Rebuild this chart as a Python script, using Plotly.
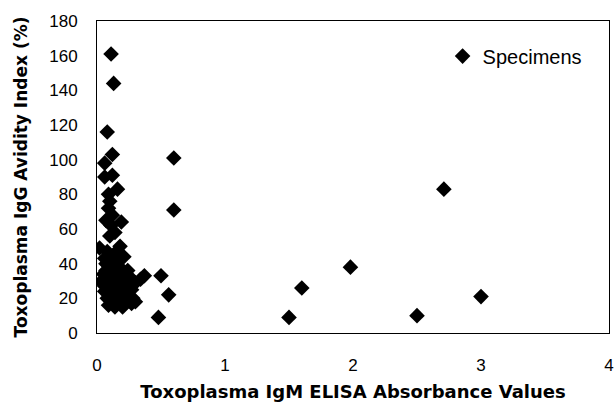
import plotly.graph_objects as go

# Toxoplasma IgM ELISA absorbance (x) vs IgG avidity index % (y)
igm_absorbance = [
    0.11, 0.13, 0.08, 0.12, 0.06, 0.06, 0.12, 0.16, 0.09, 0.10,
    0.09, 0.12, 0.07, 0.19, 0.11, 0.14, 0.10, 0.02, 0.18, 0.08,
    0.14, 0.21, 0.06, 0.11, 0.16, 0.09, 0.13, 0.19, 0.24, 0.07,
    0.12, 0.17, 0.26, 0.34, 0.05, 0.10, 0.14, 0.20, 0.30, 0.08,
    0.22, 0.12, 0.16, 0.27, 0.06, 0.10, 0.19, 0.24, 0.14, 0.08,
    0.12, 0.30, 0.17, 0.22, 0.06, 0.09, 0.14, 0.20, 0.27, 0.05,
    0.07, 0.15, 0.22, 0.11, 0.25, 0.18, 0.04, 0.28,
    0.60, 0.60, 0.37, 0.50, 0.56, 0.48,
    1.50, 1.60, 1.98, 2.50, 2.71, 3.00,
]
igg_avidity = [
    161, 144, 116, 103, 98, 90, 91, 83, 80, 76,
    72, 68, 65, 64, 62, 58, 56, 49, 50, 47,
    46, 44, 43, 42, 41, 39, 38, 37, 36, 36,
    34, 33, 32, 31, 31, 30, 29, 30, 29, 28,
    27, 26, 25, 25, 24, 23, 22, 21, 21, 20,
    19, 18, 18, 17, 27, 16, 15, 15, 17, 34,
    40, 35, 23, 44, 28, 27, 29, 20,
    101, 71, 33, 33, 22, 9,
    9, 26, 38, 10, 83, 21,
]
series_name = "Specimens"
x_ticks = [0, 1, 2, 3, 4]
y_ticks = [0, 20, 40, 60, 80, 100, 120, 140, 160, 180]

fig = go.Figure()
fig.add_trace(go.Scatter(
    x=igm_absorbance, y=igg_avidity, mode="markers", name=series_name,
    marker=dict(symbol="diamond", size=12, color="black", line=dict(width=0)),
))

font_family = "Liberation Sans, Arial, sans-serif"
title_family = "DejaVu Sans, Liberation Sans, sans-serif"
fig.update_layout(
    width=616, height=407,
    margin=dict(l=97, r=7, t=21, b=74, autoexpand=False),
    paper_bgcolor="white", plot_bgcolor="white",
    font=dict(family=font_family, size=17, color="black"),
    showlegend=True,
    legend=dict(x=0.675, y=0.95, xanchor="left", yanchor="top",
                bgcolor="rgba(0,0,0,0)", font=dict(size=20),
                borderwidth=0, itemsizing="constant"),
    xaxis=dict(
        range=[0, 4], tickvals=x_ticks, showgrid=False, zeroline=False,
        showline=True, linecolor="black", linewidth=1, mirror=True,
        ticks="", ticklabelstandoff=17, ticklabeloverflow="allow",
        title=dict(text="<b>Toxoplasma IgM ELISA Absorbance Values</b>",
                   font=dict(size=18, family=title_family), standoff=10),
    ),
    yaxis=dict(
        range=[0, 180], tickvals=y_ticks, showgrid=False, zeroline=False,
        showline=True, linecolor="black", linewidth=1, mirror=True,
        ticks="", ticklabelstandoff=15,
        title=dict(text="<b>Toxoplasma IgG Avidity Index (%)</b>",
                   font=dict(size=17, family=title_family), standoff=17),
    ),
)

fig.write_html("out.html", config={"displayModeBar": False},
               post_script="document.body.style.margin='0';")
